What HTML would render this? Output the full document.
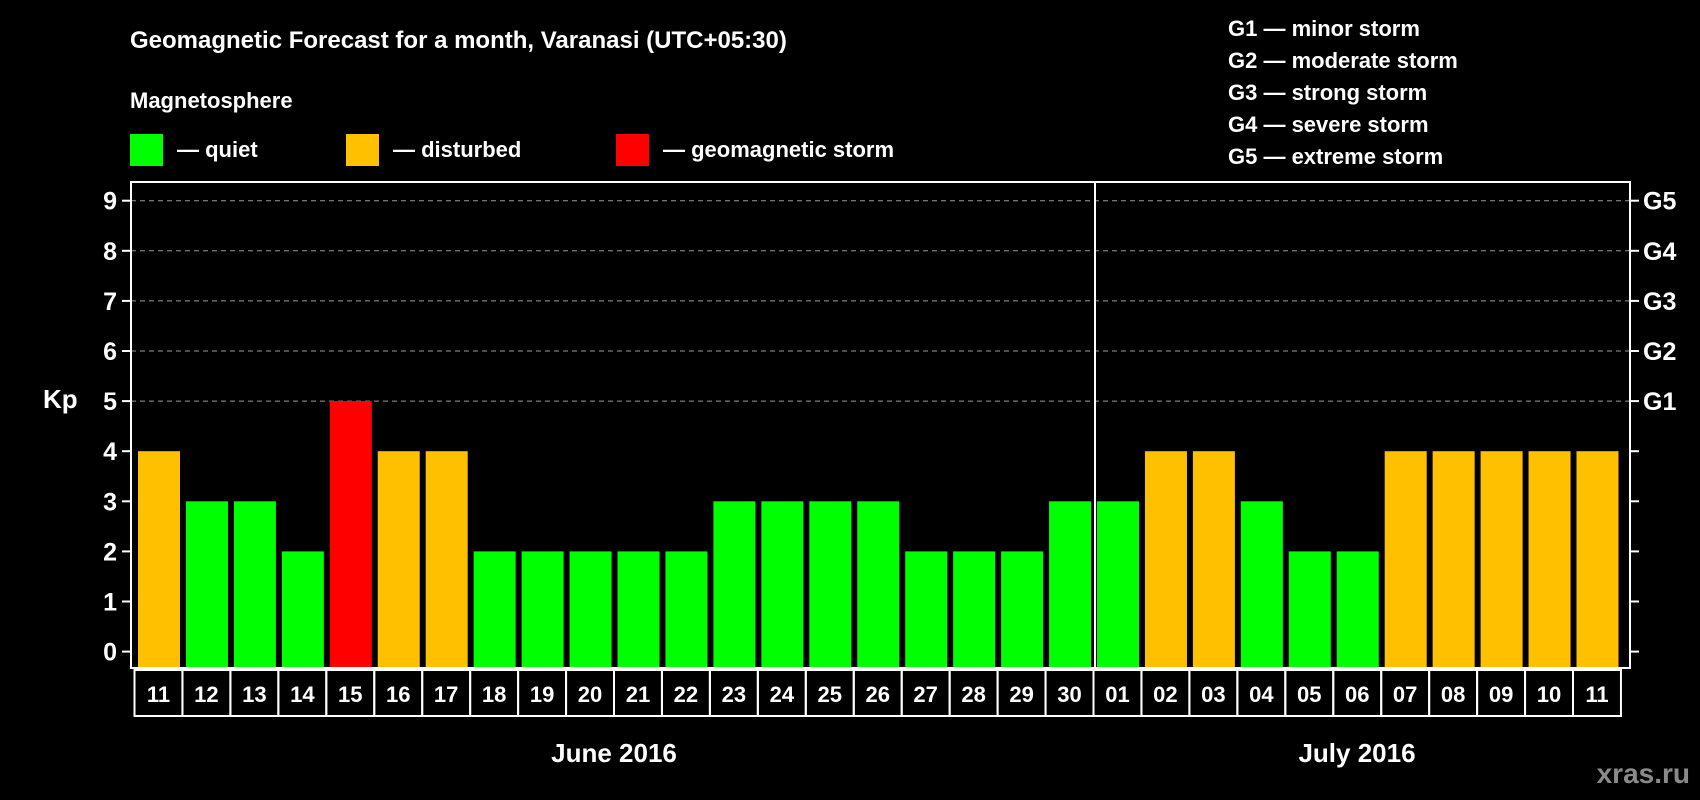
<!DOCTYPE html>
<html><head><meta charset="utf-8"><style>
html,body{margin:0;padding:0;background:#000;}
svg{display:block;font-family:"Liberation Sans",Arial,sans-serif;font-weight:bold;}
</style></head><body>
<svg id="chart" width="1700" height="800" viewBox="0 0 1700 800">
<text x="130" y="48" fill="#fff" font-size="24">Geomagnetic Forecast for a month, Varanasi (UTC+05:30)</text>
<text x="130" y="108" fill="#fff" font-size="22">Magnetosphere</text>
<g><rect x="130" y="134" width="33" height="32" fill="#00ff00"/><text x="177" y="157" fill="#fff" font-size="22">— quiet</text></g>
<g><rect x="346" y="134" width="33" height="32" fill="#ffc000"/><text x="393" y="157" fill="#fff" font-size="22">— disturbed</text></g>
<g><rect x="616" y="134" width="33" height="32" fill="#ff0000"/><text x="663" y="157" fill="#fff" font-size="22">— geomagnetic storm</text></g>
<g fill="#fff" font-size="22">
<text x="1228" y="36">G1 — minor storm</text>
<text x="1228" y="68">G2 — moderate storm</text>
<text x="1228" y="100">G3 — strong storm</text>
<text x="1228" y="132">G4 — severe storm</text>
<text x="1228" y="164">G5 — extreme storm</text>
</g>
<g id="plot"></g>
<text x="43" y="408" fill="#fff" font-size="26">Kp</text>
<text x="614" y="762" fill="#fff" font-size="26" text-anchor="middle">June 2016</text>
<text x="1357" y="762" fill="#fff" font-size="26" text-anchor="middle">July 2016</text>
<text x="1690" y="783" fill="#8a8a8a" font-size="28" text-anchor="end">xras.ru</text>
</svg>
<script>
const days = ["11","12","13","14","15","16","17","18","19","20","21","22","23","24","25","26","27","28","29","30","01","02","03","04","05","06","07","08","09","10","11"];
const kp = [4,3,3,2,5,4,4,2,2,2,2,2,3,3,3,3,2,2,2,3,3,4,4,3,2,2,4,4,4,4,4];
const yTicks = [0,1,2,3,4,5,6,7,8,9];
const gLabels = ["","","","","","G1","G2","G3","G4","G5"];
const monthSplit = 20;
const NS="http://www.w3.org/2000/svg";
const plot=document.getElementById('plot');
const L=131,R=1630,T=182,B=668,Y0=651.6,UNIT=50.1,X0=134.5,PITCH=47.95,BW=42;
const y=v=>Y0-v*UNIT;
const x=i=>X0+i*PITCH;
function mk(tag,attrs){const e=document.createElementNS(NS,tag);for(const k in attrs)e.setAttribute(k,attrs[k]);plot.appendChild(e);return e;}
function color(v){return v>=5?'#ff0000':(v>=4?'#ffc000':'#00ff00');}
yTicks.forEach((t,i)=>{
  if(t>=5){const g=mk('line',{x1:L,x2:R,y1:y(t),y2:y(t),stroke:'#999','stroke-dasharray':'5,4','stroke-width':1});
  
  }
  const tl=mk('line',{x1:L-9,x2:L,y1:y(t),y2:y(t),stroke:'#fff','stroke-width':2});
  
  
  const tr=mk('line',{x1:R,x2:R+9,y1:y(t),y2:y(t),stroke:'#fff','stroke-width':2});
  
  
  const lb=mk('text',{x:117,y:y(t)+9,fill:'#fff','font-size':25,'text-anchor':'end'});
  lb.textContent=t;
  
  
  if(gLabels[i]){const gl=mk('text',{x:1643,y:y(t)+9,fill:'#fff','font-size':25});
  gl.textContent=gLabels[i];
  
  }
});
kp.forEach((v,i)=>{
  const r=mk('rect',{x:x(i)+3.5,y:y(v),width:BW,height:B-y(v)-1,fill:color(v)});
  
  
  const c=mk('rect',{x:x(i),y:B+2,width:PITCH,height:46,fill:'none',stroke:'#fff','stroke-width':2});
  
  
  const d=mk('text',{x:x(i)+PITCH/2,y:B+34,fill:'#fff','font-size':22,'text-anchor':'middle'});
  d.textContent=days[i];
  
  
});
const fr=mk('rect',{x:L,y:T,width:R-L,height:B-T,fill:'none',stroke:'#fff','stroke-width':2});


const sx=x(monthSplit)+1.5;
const sep=mk('line',{x1:sx,x2:sx,y1:T,y2:B,stroke:'#fff','stroke-width':2});


</script>
</body></html>
